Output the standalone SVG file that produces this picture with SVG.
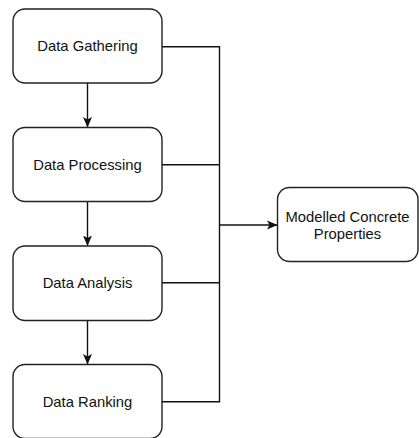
<svg xmlns="http://www.w3.org/2000/svg" width="419" height="438" viewBox="0 0 419 438">
<defs>
<marker id="arr" markerWidth="11" markerHeight="11" refX="10" refY="5.5" orient="auto" markerUnits="userSpaceOnUse">
<path d="M0,1 L10.5,5.5 L0,10 L2.5,5.5 Z" fill="#111"/>
</marker>
<style>
.box{fill:#fff;stroke:#222;stroke-width:1.4}
.lbl{font-family:"Liberation Sans",Arial,sans-serif;font-size:14.8px;fill:#111;text-anchor:middle;dominant-baseline:central}
.ln{fill:none;stroke:#111;stroke-width:1.4}
</style>
</defs>
<rect width="419" height="438" fill="#fff"/>
<g id="connectors">
<line class="ln" x1="87.5" y1="83" x2="87.5" y2="127" marker-end="url(#arr)"/>
<line class="ln" x1="87.5" y1="201.5" x2="87.5" y2="245.5" marker-end="url(#arr)"/>
<line class="ln" x1="87.5" y1="320.5" x2="87.5" y2="364" marker-end="url(#arr)"/>
<polyline class="ln" points="162,46.7 219.5,46.7 219.5,401.7 162,401.7"/>
<line class="ln" x1="162" y1="164.7" x2="219.5" y2="164.7"/>
<line class="ln" x1="162" y1="282.7" x2="219.5" y2="282.7"/>
<line class="ln" x1="219.5" y1="225" x2="277" y2="225" marker-end="url(#arr)"/>
</g>
<g id="n1"><rect class="box" x="13" y="9" width="149" height="74" rx="12"/><text class="lbl" x="87.5" y="46">Data Gathering</text></g>
<g id="n2"><rect class="box" x="13" y="127.5" width="149" height="74" rx="12"/><text class="lbl" x="87.5" y="165">Data Processing</text></g>
<g id="n3"><rect class="box" x="13" y="246" width="149" height="74.5" rx="12"/><text class="lbl" x="87.5" y="283">Data Analysis</text></g>
<g id="n4"><rect class="box" x="13" y="364.5" width="149" height="74" rx="12"/><text class="lbl" x="87.5" y="402">Data Ranking</text></g>
<g id="n5"><rect class="box" x="277.5" y="187.5" width="140.5" height="74" rx="12"/><text class="lbl" x="347.5" y="216.5">Modelled Concrete</text><text class="lbl" x="347.5" y="233.5">Properties</text></g>
</svg>
